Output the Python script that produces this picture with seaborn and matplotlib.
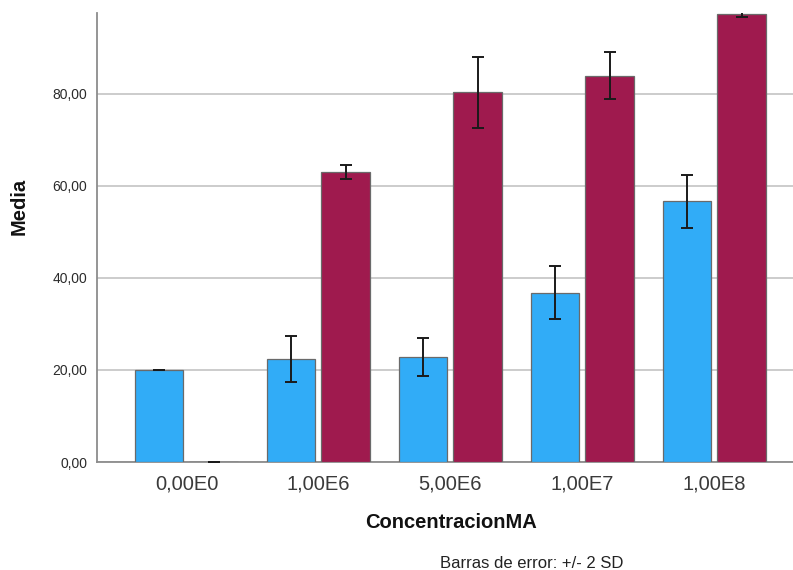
import matplotlib
matplotlib.use("Agg")
import matplotlib.pyplot as plt
import seaborn as sns
import pandas as pd

# ---- data ----
categories = ["0,00E0", "1,00E6", "5,00E6", "1,00E7", "1,00E8"]
series_names = ["Serie 1", "Serie 2"]
blue_means = [20.0, 22.3, 22.8, 36.8, 56.6]
red_means = [0.0, 63.0, 80.3, 83.9, 97.3]
blue_err = [0.0, 5.0, 4.2, 5.8, 5.8]     # +/- 2 SD
red_err = [0.0, 1.45, 7.75, 5.05, 0.6]
yticks = [0, 20, 40, 60, 80]
ytick_labels = ["0,00", "20,00", "40,00", "60,00", "80,00"]

colors = ["#31ACF7", "#9F1A4E"]

df = pd.DataFrame({
    "ConcentracionMA": categories * 2,
    "Media": blue_means + red_means,
    "Serie": [series_names[0]] * len(categories) + [series_names[1]] * len(categories),
})

sns.set_theme(style="white")
plt.rcParams["font.family"] = ["Liberation Sans", "DejaVu Sans"]

fig = plt.figure(figsize=(7.93, 5.70), dpi=100)
W, H = 793, 570
ax_left, ax_right, ax_top, ax_bottom = 97, 793, 13, 462
ax = fig.add_axes([ax_left / W, (H - ax_bottom) / H, (ax_right - ax_left) / W, (ax_bottom - ax_top) / H])

sns.barplot(data=df, x="ConcentracionMA", y="Media", hue="Serie", order=categories,
            hue_order=series_names, palette=colors, width=0.825, gap=0.11,
            errorbar=None, legend=False, edgecolor="#6a6a6a", linewidth=0.9,
            saturation=1, ax=ax, zorder=3)

# error bars (+/- 2 SD) at bar centers
for cont, means, errs in zip(ax.containers, [blue_means, red_means], [blue_err, red_err]):
    xs = [b.get_x() + b.get_width() / 2 for b in cont]
    ax.errorbar(xs, means, yerr=errs, fmt="none", ecolor="#1a1a1a", elinewidth=1.4,
                capsize=4.5, capthick=1.4, zorder=4)

ax.set_xlim(-0.678, 4.595)
ax.set_ylim(0, 97.5)
ax.set_yticks(yticks)
ax.set_yticklabels(ytick_labels)
ax.yaxis.grid(True, color="#c4c4c4", linewidth=1.2, zorder=0)
ax.xaxis.grid(False)
ax.set_axisbelow(True)

for s in ["top", "right"]:
    ax.spines[s].set_visible(False)
for s in ["left", "bottom"]:
    ax.spines[s].set_color("#8c8c8c")
    ax.spines[s].set_linewidth(1.3)

ax.tick_params(axis="y", length=0, pad=7, labelsize=10, labelcolor="#2b2b2b")
ax.tick_params(axis="x", length=0, pad=9, labelsize=14.5, labelcolor="#3a3a3a")

ax.set_xlabel("ConcentracionMA", fontsize=14.5, fontweight="bold", color="#111111")
ax.xaxis.set_label_coords((450.5 - ax_left) / (ax_right - ax_left), (ax_bottom - 523) / (ax_bottom - ax_top))
ax.xaxis.label.set_verticalalignment("center")
ax.set_ylabel("Media", fontsize=14.5, fontweight="bold", color="#111111")
ax.yaxis.set_label_coords((19.5 - ax_left) / (ax_right - ax_left), (ax_bottom - 206) / (ax_bottom - ax_top))
ax.yaxis.label.set_verticalalignment("center")

fig.text(531.5 / W, 1 - 563 / H, "Barras de error: +/- 2 SD", ha="center", va="center",
         fontsize=12, color="#222222")

fig.savefig("out.png", dpi=100)
